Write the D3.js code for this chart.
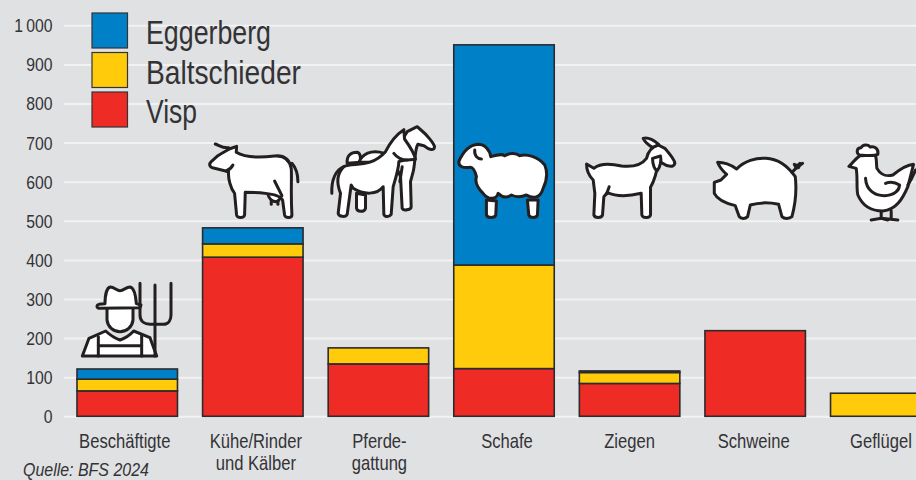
<!DOCTYPE html>
<html>
<head>
<meta charset="utf-8">
<script src="https://cdn.jsdelivr.net/npm/d3@7"></script>
<style>
    html, body { margin: 0; padding: 0; background: #e0e1e3; overflow: hidden; }
    svg { display: block; }
    text { font-family: "Liberation Sans", sans-serif; fill: #333336; }
    .icon path { fill: #fff; stroke: #231f20; stroke-width: 9; stroke-linejoin: round; stroke-linecap: round; }
    .icon path.line { fill: none; }
</style>
</head>
<body>
<div class="chart"></div>
<script>
// Values
const categories = ["Beschäftigte", "Kühe/Rinder und Kälber", "Pferdegattung", "Schafe", "Ziegen", "Schweine", "Geflügel"]
const categoryLines = [["Beschäftigte"], ["Kühe/Rinder", "und Kälber"], ["Pferde-", "gattung"], ["Schafe"], ["Ziegen"], ["Schweine"], ["Geflügel"]]
const visp = [65, 407, 134, 122, 84, 219, 0]
const baltschieder = [30, 34, 41, 265, 28, 0, 59]
const eggerberg = [26, 41, 0, 563, 4, 0, 0]
const yTicks = [0, 100, 200, 300, 400, 500, 600, 700, 800, 900, 1000]
const seriesNames = ["Visp", "Baltschieder", "Eggerberg"]
const seriesColors = ["#ef2b25", "#ffcb0a", "#0080c6"]
const source = "Quelle: BFS 2024"

// No condensed font installed, so squeeze the text horizontally
const squeeze = 0.83
const legendWidths = { Eggerberg: 125, Baltschieder: 155, Visp: 51 }
// Labels are not quite centred under the bars in the original
const labelShift = [-2.5, 3, 1, 3, 0, -1.5, 0]

// Icons: drawn on a 3x grid, [offset from bar left, top y, fill paths, stroke-only paths]
const icons = [
    { dx: -2, top: 275, fill: [
        "M22,243 L42,190 L92,168 C105,180 120,190 135,195 C150,190 165,180 176,168 L225,188 L245,243 Z",
        "M96,95 L96,135 C98,155 115,170 135,170 C155,170 172,155 174,135 L174,95 Z",
        "M72,88 L90,86 C90,60 96,38 106,36 C118,36 125,47 135,47 C146,47 153,36 165,36 C176,38 182,60 184,86 L198,90 L195,98 L72,100 C64,98 64,90 72,88 Z"
    ], line: [
        "M70,185 L70,243", "M200,180 L200,243", "M70,212 L200,212",
        "M195,25 L195,120 C195,140 210,148 225,148 L265,148 C280,148 288,135 288,120 L288,25",
        "M240,30 L240,243"
    ] },
    { dx: 2, top: 135, fill: [
        "M190,178 C195,195 205,200 215,200 C225,198 232,185 232,170 Z",
        "M74,42 L96,34 L95,52 C125,70 170,68 210,63 C240,60 255,75 260,100 C262,130 258,170 262,240 C262,250 242,250 240,240 L234,195 C225,175 170,172 122,172 L120,240 C118,250 98,250 96,240 L90,175 C78,160 70,130 72,110 L30,100 C14,98 12,88 20,80 L40,62 C55,52 65,48 74,42 Z"
    ], line: [
        "M262,85 C275,100 280,120 280,140", "M32,27 C45,32 55,40 72,38", "M200,195 L200,208", "M220,198 L220,208",
        "M210,138 L232,182", "M85,90 C80,100 72,105 65,108"
    ] },
    { dx: -1, top: 125, fill: [
        "M60,115 C58,92 70,82 90,82 C100,84 100,95 100,112 Z",
        "M95,112 C105,88 130,72 172,85 L178,112 Z",
        "M88,205 L88,250 C90,262 112,262 115,250 L115,210 Z",
        "M228,40 L240,20 L270,5 L278,12 C300,30 320,55 322,65 C322,78 305,75 290,62 L272,58 C262,75 265,110 258,140 L250,170 L252,245 C252,255 228,258 225,250 L220,155 L205,120 Z",
        "M175,80 C190,50 205,30 230,14 L232,42 C245,60 262,85 265,103 C250,105 225,105 215,110 C215,130 205,160 198,185 L192,268 C185,278 172,275 170,268 L168,185 C150,210 110,210 78,190 L72,180 L60,268 C55,278 35,275 33,265 L40,205 C30,180 25,150 50,125 C80,112 130,130 175,80 Z"
    ], line: [
        "M50,125 C25,135 12,165 14,205", "M200,85 C210,98 225,105 240,105", "M225,125 L218,170"
    ] },
    { dx: 1, top: 135, fill: [
        "M95,195 L95,240 C98,250 120,250 123,240 L125,198 Z",
        "M218,195 L222,240 C225,250 245,250 248,240 L250,195 Z",
        "M12,80 C25,50 45,30 70,28 C90,28 105,45 108,65 C125,60 140,55 150,62 C165,52 185,55 195,62 C215,55 250,65 270,90 C280,115 275,140 265,160 C258,185 240,195 215,180 C195,188 180,185 170,180 C155,190 140,185 130,175 C125,195 100,195 85,175 C70,160 60,140 65,125 C60,105 55,95 45,97 C25,100 12,95 12,80 Z"
    ], line: ["M60,45 C58,62 68,72 80,72"] },
    { dx: 0.5, top: 130, fill: [
        "M20,102 L42,115 C60,100 90,100 125,108 C160,112 185,105 200,85 C205,65 215,50 235,45 L255,55 C268,70 285,90 285,100 C282,112 265,112 248,100 L236,90 C232,120 225,150 212,172 L212,255 C210,265 188,265 186,255 L184,190 C150,198 110,200 82,188 L72,200 L68,255 C65,265 45,265 42,255 L45,190 L40,150 C25,135 20,115 20,102 Z",
        "M190,25 C205,20 225,32 237,44 L218,52 C205,45 195,35 190,25 Z",
        "M218,85 C218,105 225,120 232,122 C242,110 245,90 242,78 Z"
    ], line: ["M88,170 C85,180 82,186 80,192"] },
    { dx: 1, top: 145, fill: [
        "M35,52 C55,52 75,60 92,72 C115,48 150,38 180,40 C220,42 250,70 268,95 C272,130 270,170 258,215 C250,222 235,222 228,215 L218,178 C190,172 160,172 133,180 L125,215 C118,222 105,222 100,215 L88,182 C60,175 35,165 25,145 L25,112 L45,105 L62,88 C50,78 40,65 35,52 Z",
        "M265,58 L275,62 L282,55 L278,68 L270,68 Z"
    ], line: ["M258,82 L272,68 L290,55"] },
    { dx: 9, top: 135, fill: [
        "M125,228 L125,250 M155,228 L155,250",
        "M62,62 C45,72 40,85 28,94 L50,100 C55,130 50,160 55,180 C70,215 100,228 130,228 C170,225 190,190 205,155 L222,88 C200,90 175,108 160,120 C140,125 125,122 112,100 C110,85 112,70 107,60 Z",
        "M60,60 C50,55 50,38 65,38 C70,28 85,28 92,36 C105,32 118,42 115,58 C100,66 80,60 60,60 Z"
    ], line: [
        "M78,130 C80,165 105,182 135,182 C165,182 180,165 180,150 C165,140 150,140 138,145",
        "M95,255 L125,250 L145,255", "M125,250 L175,255", "M205,150 C215,135 222,120 228,105"
    ] }
]

const width = 916
const height = 480

const rows = categories.map((c, i) => ({ category: c, Visp: visp[i], Baltschieder: baltschieder[i], Eggerberg: eggerberg[i] }))

// Establish scales
const xScale = d3.scaleBand()
    .domain(categories)
    .range([77, 931])
    .paddingInner(0.2)

const yScale = d3.scaleLinear()
    .domain([0, 1000])
    .range([416.3, 25.3])

const colorScale = d3.scaleOrdinal()
    .domain(seriesNames)
    .range(seriesColors)

const svg = d3.select(".chart").append("svg")
    .attr("width", width)
    .attr("height", height)

// Axis with white gridlines
const yAxis = d3.axisLeft(yScale)
    .tickValues(yTicks)
    .tickSize(-(width - 64))
    .tickFormat(d => d >= 1000 ? `${Math.floor(d / 1000)}\u2009${d3.format("03")(d % 1000)}` : d)

const axis = svg.append("g")
    .attr("transform", "translate(64,0)")
    .call(yAxis)
axis.attr("font-family", null)
axis.select(".domain").remove()
axis.selectAll(".tick line").attr("stroke", "#f1f2f3").attr("stroke-width", 2)
axis.selectAll(".tick text")
    .attr("font-size", 19)
    .attr("x", -11.5 / squeeze)
    .attr("dy", "0.34em")
    .attr("transform", `scale(${squeeze},1)`)

// Stacked bars
const stacked = d3.stack().keys(seriesNames)(rows)

svg.append("g").selectAll("g")
    .data(stacked)
    .enter()
    .append("g")
    .attr("fill", d => colorScale(d.key))
    .selectAll("rect")
    .data(d => d.filter(p => p[1] > p[0]))
    .enter()
    .append("rect")
    .attr("x", d => xScale(d.data.category))
    .attr("y", d => yScale(d[1]))
    .attr("width", xScale.bandwidth())
    .attr("height", d => yScale(d[0]) - yScale(d[1]))
    .attr("stroke", "#2b2b2e")
    .attr("stroke-width", 1.6)

// Category labels
const labels = svg.append("g").selectAll("text")
    .data(categories)
    .enter()
    .append("text")
    .attr("text-anchor", "middle")
    .attr("font-size", 20)
    .attr("transform", (d, i) => {
        // last bar runs off the page, its label sits on the visible part
        const center = d === "Geflügel" ? 881 : xScale(d) + xScale.bandwidth() / 2 + labelShift[i]
        return `translate(${center},448) scale(${squeeze},1)`
    })

labels.selectAll("tspan")
    .data((d, i) => categoryLines[i])
    .enter()
    .append("tspan")
    .attr("x", 0)
    .attr("dy", (_, i) => i ? 22 : 0)
    .text(d => d)

// Animal icons above the bars
const icon = svg.append("g").selectAll("g")
    .data(icons)
    .enter()
    .append("g")
    .attr("class", "icon")
    .attr("transform", (d, i) => {
        const left = xScale(categories[i]) + d.dx
        return `translate(${left},${d.top}) scale(${1 / 3})`
    })
icon.selectAll("path.shape")
    .data(d => d.fill)
    .enter()
    .append("path")
    .attr("class", "shape")
    .attr("d", d => d)
icon.selectAll("path.line")
    .data(d => d.line)
    .enter()
    .append("path")
    .attr("class", "line")
    .attr("d", d => d)

// Legend, top entry first
const legendScale = d3.scalePoint()
    .domain(["Eggerberg", "Baltschieder", "Visp"])
    .range([13, 92])

const legend = svg.append("g").selectAll("g")
    .data(legendScale.domain())
    .enter()
    .append("g")
    .attr("transform", d => `translate(92,${legendScale(d)})`)

legend.append("rect")
    .attr("width", 35.5)
    .attr("height", 35)
    .attr("fill", d => colorScale(d))
    .attr("stroke", "#333336")
    .attr("stroke-width", 1.2)

legend.append("text")
    .attr("x", 54)
    .attr("y", 31)
    .attr("font-size", 33)
    .attr("textLength", d => legendWidths[d])
    .attr("lengthAdjust", "spacingAndGlyphs")
    .attr("fill", "#231f20")
    .text(d => d)

// Source
svg.append("text")
    .attr("transform", "translate(23,476) scale(0.84,1)")
    .attr("font-size", 19)
    .attr("font-style", "italic")
    .text(source)
</script>
</body>
</html>
